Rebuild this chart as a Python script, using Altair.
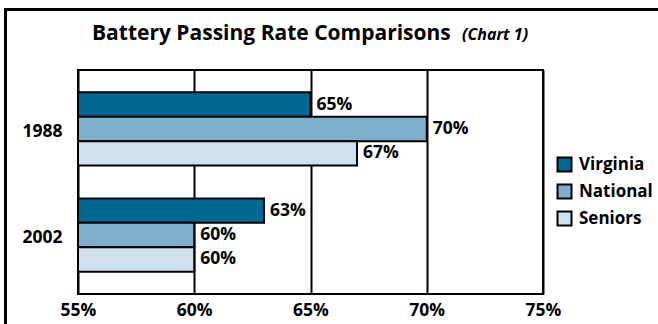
import altair as alt
import pandas as pd

years = ["1988", "1988", "1988", "2002", "2002", "2002"]
series = ["Virginia", "National", "Seniors", "Virginia", "National", "Seniors"]
values = [65, 70, 67, 63, 60, 60]
series_order = ["Virginia", "National", "Seniors"]
colors = ["#006892", "#80AFCE", "#CFE1EE"]
x_ticks = [55, 60, 65, 70, 75]

df = pd.DataFrame({"year": years, "series": series, "value": values})
df["label"] = df["value"].astype(str) + "%"

FONT = "Open Sans"
LS = 17.5

y_enc = alt.Y("year:N", title=None,
              scale=alt.Scale(paddingInner=0.31, paddingOuter=0.21),
              axis=alt.Axis(labelFontSize=LS, labelFontWeight="bold", labelFont=FONT,
                            labelColor="black", labelPadding=16, labelOffset=3,
                            ticks=False, domain=False))
yoff = alt.YOffset("series:N", sort=series_order, scale=alt.Scale(paddingInner=0, paddingOuter=0))
x_enc = alt.X("value:Q", title=None,
              scale=alt.Scale(domain=[55, 75], zero=False, nice=False),
              axis=alt.Axis(values=x_ticks, labelExpr="datum.value + '%'", labelFontSize=LS,
                            labelFontWeight="bold", labelFont=FONT, labelColor="black",
                            labelPadding=7, labelFlush=False, ticks=False, domain=False,
                            grid=True, gridColor="black", gridWidth=2, gridOpacity=1))

bars = alt.Chart(df).mark_bar(stroke="black", strokeWidth=2, opacity=1).encode(
    y=y_enc, yOffset=yoff, x=x_enc, x2=alt.datum(55),
    color=alt.Color("series:N", sort=series_order,
                    scale=alt.Scale(domain=series_order, range=colors),
                    legend=alt.Legend(title=None, orient="none", legendX=478, legendY=86,
                                      symbolType="square", symbolSize=196,
                                      symbolStrokeColor="black", symbolStrokeWidth=2,
                                      symbolOpacity=1,
                                      labelFontSize=17, labelFontWeight="bold", labelFont=FONT,
                                      labelColor="black", labelOffset=6, rowPadding=4,
                                      padding=0))
)

labels = alt.Chart(df).mark_text(align="left", baseline="middle", dx=6, fontSize=LS,
                                 fontWeight="bold", font=FONT, color="black").encode(
    y=alt.Y("year:N", scale=alt.Scale(paddingInner=0.31, paddingOuter=0.21)),
    yOffset=yoff, x=alt.X("value:Q"), text="label:N"
)

title_df = pd.DataFrame({"t": ["Battery Passing Rate Comparisons"]})
title = alt.Chart(title_df).mark_text(align="left", baseline="alphabetic", fontSize=21,
                                      fontWeight="bold", font=FONT, color="black").encode(
    x=alt.value(14), y=alt.value(-30), text="t:N")
sub_df = pd.DataFrame({"t": ["(Chart 1)"]})
subtitle = alt.Chart(sub_df).mark_text(align="left", baseline="alphabetic", fontSize=16,
                                       fontWeight="bold", fontStyle="italic", font=FONT,
                                       color="black").encode(
    x=alt.value(384), y=alt.value(-30), text="t:N")

frame_df = pd.DataFrame({"k": [1]})
frame_v = alt.Chart(frame_df).mark_rule(color="black", strokeWidth=3).encode(
    x=alt.value(-72.5), y=alt.value(-61), y2=alt.value(260))
frame_h = alt.Chart(frame_df).mark_rule(color="black", strokeWidth=3).encode(
    x=alt.value(-74), x2=alt.value(600), y=alt.value(-60.5))

chart = alt.layer(bars, labels, title, subtitle, frame_v, frame_h).properties(
    width=465, height=224,
    autosize=alt.AutoSizeParams(type="none"),
    padding={"left": 78, "top": 70, "right": 115, "bottom": 30},
    background="white",
).configure_view(stroke="black", strokeWidth=2)

chart.save("out.html", embed_options={"renderer": "svg", "actions": False})
